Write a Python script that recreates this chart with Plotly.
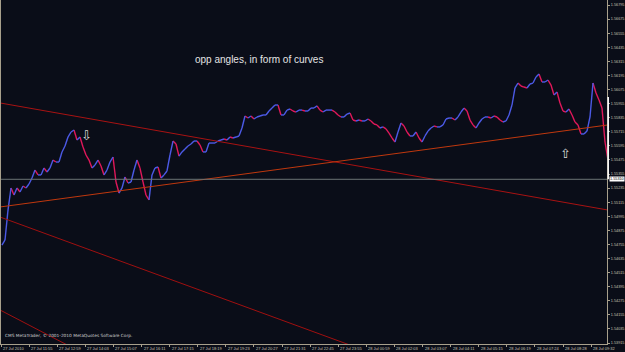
import plotly.graph_objects as go

# ---- data (GBPUSD-like chart, one value per bar step) ----
closes = [
    1.54750, 1.54793, 1.55048, 1.55236, 1.55176, 1.55236, 1.55202, 1.55253, 1.55236, 1.55270,
    1.55321, 1.55389, 1.55347, 1.55347, 1.55406, 1.55372, 1.55406, 1.55474, 1.55457, 1.55457,
    1.55543, 1.55594, 1.55670, 1.55713, 1.55730, 1.55645, 1.55670, 1.55585, 1.55517, 1.55474,
    1.55406, 1.55432, 1.55474, 1.55423, 1.55347, 1.55389, 1.55457, 1.55500, 1.55287, 1.55193,
    1.55236, 1.55330, 1.55278, 1.55287, 1.55389, 1.55474, 1.55406, 1.55287, 1.55176, 1.55134,
    1.55347, 1.55406, 1.55415, 1.55321, 1.55347, 1.55381, 1.55517, 1.55636, 1.55611, 1.55508,
    1.55543, 1.55568, 1.55594, 1.55611, 1.55636, 1.55636, 1.55602, 1.55543, 1.55543, 1.55619,
    1.55619, 1.55619, 1.55636, 1.55645, 1.55653, 1.55645, 1.55670, 1.55662, 1.55670, 1.55679,
    1.55747, 1.55849, 1.55832, 1.55849, 1.55824, 1.55841, 1.55849, 1.55858, 1.55858, 1.55892,
    1.55917, 1.55943, 1.55943, 1.55858, 1.55858, 1.55900, 1.55909, 1.55892, 1.55883, 1.55900,
    1.55900, 1.55892, 1.55892, 1.55917, 1.55917, 1.55935, 1.55900, 1.55883, 1.55900, 1.55900,
    1.55900, 1.55883, 1.55858, 1.55841, 1.55841, 1.55866, 1.55875, 1.55815, 1.55807, 1.55815,
    1.55807, 1.55807, 1.55824, 1.55807, 1.55781, 1.55773, 1.55747, 1.55756, 1.55739, 1.55704,
    1.55662, 1.55628, 1.55713, 1.55790, 1.55764, 1.55713, 1.55679, 1.55679, 1.55713, 1.55662,
    1.55628, 1.55679, 1.55721, 1.55747, 1.55764, 1.55756, 1.55756, 1.55773, 1.55824, 1.55832,
    1.55832, 1.55815, 1.55841, 1.55883, 1.55917, 1.55892, 1.55815, 1.55773, 1.55747, 1.55790,
    1.55824, 1.55841, 1.55841, 1.55832, 1.55849, 1.55841, 1.55815, 1.55798, 1.55807, 1.55858,
    1.55943, 1.56088, 1.56130, 1.56105, 1.56096, 1.56088, 1.56122, 1.56130, 1.56182, 1.56207,
    1.56139, 1.56139, 1.56156, 1.56113, 1.56028, 1.56054, 1.55960, 1.55892, 1.55883, 1.55909,
    1.55858, 1.55798, 1.55773, 1.55696, 1.55696, 1.55721, 1.55841, 1.56130, 1.56045, 1.55986,
    1.55917, 1.55628, 1.55474,
]
bid_price = 1.55310

# trend lines: (start bar, start price, end bar, end price, colour)
trend_lines = [
    (-1, 1.55962, 202, 1.55048, "#a81212"),
    (-1, 1.55073, 202, 1.55773, "#c0380e"),
    (-1, 1.54992, 202, 1.53093, "#a01010"),
    (-1, 1.54201, 32.67, 1.53753, "#a01010"),
]

x_labels = [
    "27 Jul 2010", "27 Jul 11:55", "27 Jul 12:59", "27 Jul 14:03", "27 Jul 15:07",
    "27 Jul 16:11", "27 Jul 17:15", "27 Jul 18:19", "27 Jul 19:23", "27 Jul 20:27",
    "27 Jul 21:31", "27 Jul 22:45", "27 Jul 23:55", "28 Jul 00:59", "28 Jul 02:03",
    "28 Jul 03:07", "28 Jul 04:11", "28 Jul 05:15", "28 Jul 06:19", "28 Jul 07:24",
    "28 Jul 08:28", "28 Jul 09:32",
]
bars_per_label = 9.3667
first_label_bar = -0.333

y_top_tick = 1.56795
y_tick_step = 0.0012
n_y_ticks = 25

arrows = [("⇩", 28.3, 1.55679), ("⇧", 187.7, 1.55526)]

# ---- figure ----
BG = "#0a0d18"
AX = "#a8a08c"
TXT = "#c8c2b4"

fig = go.Figure()

# price path split into rising (blue) and falling (red) steps
up_x, up_y, dn_x, dn_y = [], [], [], []
for i in range(1, len(closes)):
    if closes[i] >= closes[i - 1]:
        up_x += [i - 1, i, None]
        up_y += [closes[i - 1], closes[i], None]
    else:
        dn_x += [i - 1, i, None]
        dn_y += [closes[i - 1], closes[i], None]

fig.add_trace(go.Scatter(x=dn_x, y=dn_y, mode="lines",
                         line=dict(color="#e0185a", width=1.4), hoverinfo="skip"))
fig.add_trace(go.Scatter(x=up_x, y=up_y, mode="lines",
                         line=dict(color="#4c5ae6", width=1.4), hoverinfo="skip"))

for x0, y0, x1, y1, col in trend_lines:
    fig.add_trace(go.Scatter(x=[x0, x1], y=[y0, y1], mode="lines",
                             line=dict(color=col, width=1), hoverinfo="skip"))

x_range = [-0.333, 201.667]
y_range = [1.539067, 1.568376]

# bid line
fig.add_trace(go.Scatter(x=x_range, y=[bid_price, bid_price], mode="lines",
                         line=dict(color="#6c7474", width=1), hoverinfo="skip"))

tickvals_x = [first_label_bar + k * bars_per_label for k in range(len(x_labels))]
tickvals_y = [round(y_top_tick - k * y_tick_step, 5) for k in range(n_y_ticks)]

fig.update_layout(
    width=625, height=352,
    margin=dict(l=1, r=18, t=0, b=8),
    paper_bgcolor=BG, plot_bgcolor=BG,
    showlegend=False,
    xaxis=dict(range=x_range, tickvals=tickvals_x, showticklabels=False,
               ticks="outside", ticklen=2, tickcolor=AX, tickwidth=1,
               showline=True, linecolor=AX, linewidth=1, mirror=True,
               showgrid=False, zeroline=False, automargin=False),
    yaxis=dict(range=y_range, side="right", tickvals=tickvals_y,
               ticktext=[f"{v:.5f}" for v in tickvals_y],
               ticks="outside", ticklen=2, tickcolor=AX, tickwidth=1,
               showline=True, linecolor=AX, linewidth=1, mirror=True,
               showgrid=False, zeroline=False, automargin=False,
               ticklabelstandoff=0,
               tickfont=dict(size=3.8, color=TXT, family="Liberation Sans")),
)

# time labels, placed to the right of each tick as on the trading terminal
for tv, lab in zip(tickvals_x, x_labels):
    fig.add_annotation(x=tv, y=0, xref="x", yref="paper", text=lab,
                       showarrow=False, xanchor="left", yanchor="top",
                       xshift=1, yshift=-1, borderpad=0,
                       font=dict(size=4, color=TXT, family="Liberation Sans"))

fig.add_annotation(x=0.3168, y=0.8256, xref="paper", yref="paper",
                   text="opp angles, in form of curves", showarrow=False,
                   xanchor="left", yanchor="middle",
                   font=dict(size=10, color="#e4e4e4", family="Liberation Sans"))

fig.add_annotation(x=0.0033, y=0.012, xref="paper", yref="paper",
                   text="CMS MetaTrader, © 2001-2010 MetaQuotes Software Corp.",
                   showarrow=False, xanchor="left", yanchor="bottom",
                   font=dict(size=4.3, color="#d0d0d0", family="DejaVu Sans"))

for sym, bx, py in arrows:
    fig.add_annotation(x=bx, y=py, xref="x", yref="y", text=sym, showarrow=False,
                       font=dict(size=13, color="#d8d8d8", family="DejaVu Sans"))

# highlighted bid label on the price scale
fig.add_annotation(x=1.004, y=bid_price, xref="paper", yref="y",
                   text=f"{bid_price:.5f}", showarrow=False, xanchor="left",
                   yanchor="middle", bgcolor="#ffffff", borderpad=0,
                   font=dict(size=3.8, color="#000000", family="Liberation Sans"))

# white range bar at the price scale edge
fig.add_shape(type="line", xref="paper", yref="y", x0=1.002, x1=1.002,
              y0=1.56011, y1=bid_price, line=dict(color="#ffffff", width=1.5))

fig.write_html("out.html")
